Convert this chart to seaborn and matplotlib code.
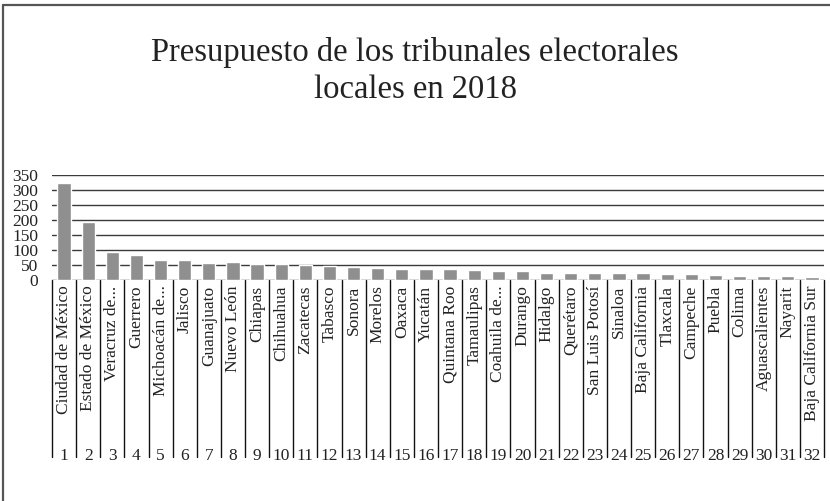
import matplotlib
matplotlib.use("Agg")
import matplotlib.pyplot as plt
import seaborn as sns
import pandas as pd
from matplotlib.lines import Line2D

states = ["Ciudad de México", "Estado de México", "Veracruz de...", "Guerrero",
          "Michoacán de...", "Jalisco", "Guanajuato", "Nuevo León", "Chiapas",
          "Chihuahua", "Zacatecas", "Tabasco", "Sonora", "Morelos", "Oaxaca",
          "Yucatán", "Quintana Roo", "Tamaulipas", "Coahuila de...", "Durango",
          "Hidalgo", "Querétaro", "San Luis Potosí", "Sinaloa", "Baja California",
          "Tlaxcala", "Campeche", "Puebla", "Colima", "Aguascalientes", "Nayarit",
          "Baja California Sur"]
budget = [324, 194, 93, 83, 67, 67, 57, 60, 53, 52, 51, 48, 43, 41, 37, 37, 37,
          33, 30, 30, 23, 22, 22, 22, 22, 19, 19, 16, 12, 12, 12, 9]
ranks = [str(i) for i in range(1, 33)]
yticks = [0, 50, 100, 150, 200, 250, 300, 350]
title = "Presupuesto de los tribunales electorales\nlocales en 2018"

sns.set_theme(style="white")
plt.rcParams["font.family"] = ["Liberation Serif", "DejaVu Serif"]

df = pd.DataFrame({"estado": states, "presupuesto": budget})

W, H = 830, 501
fig = plt.figure(figsize=(W / 100, H / 100), dpi=100)
x0, x1, y0, y1 = 52, 824, 175, 280
ax = fig.add_axes([x0 / W, 1 - y1 / H, (x1 - x0) / W, (y1 - y0) / H])

sns.barplot(data=df, x="estado", y="presupuesto", color="#8f8f8f",
            saturation=1, width=0.55, ax=ax)
for p in ax.patches:
    p.set_zorder(3)
ax.set_ylim(0, 350)
ax.set_xlim(-0.5, len(states) - 0.5)
ax.set_yticks(yticks)
ax.set_yticklabels([str(v) for v in yticks], fontsize=12.5, color="#222222")
for v in yticks:
    ax.axhline(v, color="#3a3a3a", lw=1.0, zorder=1)
for s in ax.spines.values():
    s.set_visible(False)
ax.tick_params(axis="y", length=0, pad=10)
ax.tick_params(axis="x", length=0, pad=4)
ax.set_xticks(range(len(states)))
ax.set_xticklabels(states, rotation=90, fontsize=12.5, va="top", ha="center",
                   color="#222222")
ax.set_xlabel("")
ax.set_ylabel("")

trans = ax.get_xaxis_transform()
bottom = (y1 - 457) / (y1 - y0)
for i in range(len(states) + 1):
    ax.add_line(Line2D([i - 0.5, i - 0.5], [0, bottom], transform=trans,
                       color="#111111", lw=1.0, clip_on=False))
num_y = (y1 - 460) / (y1 - y0)
for i, r in enumerate(ranks):
    ax.text(i, num_y, r, transform=trans, ha="center", va="baseline",
            fontsize=12.5, color="#222222", clip_on=False)

fig.text(0.5, 1 - 71 / H, title, ha="center", va="center", fontsize=23.5,
         color="#222222", linespacing=1.3)

# outer frame (top and left)
fig.add_artist(Line2D([3 / W, 1], [1 - 5 / H, 1 - 5 / H], transform=fig.transFigure,
                      color="#555555", lw=1.6))
fig.add_artist(Line2D([3 / W, 3 / W], [0, 1 - 5 / H], transform=fig.transFigure,
                      color="#555555", lw=1.6))

fig.savefig("out.png", dpi=100)
